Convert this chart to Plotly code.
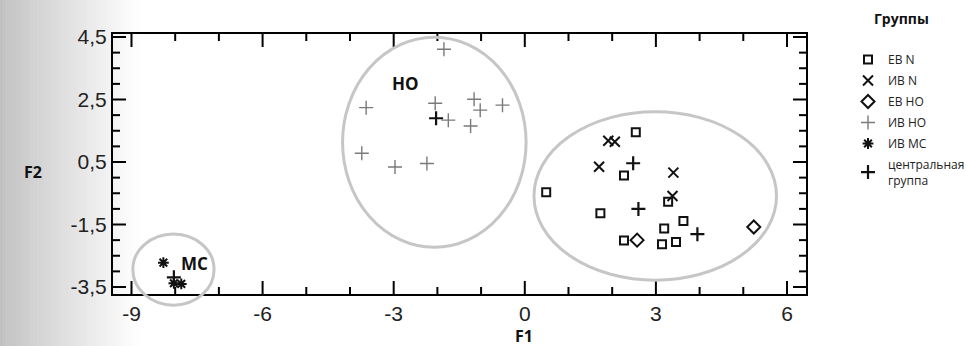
import plotly.graph_objects as go

# ---------------- data ----------------
ev_n_x = [2.54, 2.27, 0.49, 3.28, 1.73, 3.63, 3.19, 2.27, 3.46, 3.14]
ev_n_y = [1.45, 0.07, -0.47, -0.77, -1.14, -1.39, -1.63, -2.01, -2.06, -2.13]
iv_n_x = [1.91, 2.06, 1.70, 3.40, 3.38]
iv_n_y = [1.18, 1.15, 0.35, 0.16, -0.59]
ev_no_x = [2.57, 5.24]
ev_no_y = [-2.00, -1.58]
iv_no_x = [-1.85, -3.63, -2.05, -1.16, -1.02, -0.51, -1.75, -1.24, -3.73, -2.97, -2.24]
iv_no_y = [4.11, 2.24, 2.38, 2.51, 2.16, 2.32, 1.84, 1.65, 0.78, 0.34, 0.45]
iv_mc_x = [-8.27, -8.03, -7.86]
iv_mc_y = [-2.72, -3.38, -3.40]
central_x = [-8.03, -2.03, 2.48, 2.60, 3.95]
central_y = [-3.19, 1.90, 0.46, -1.00, -1.81]

x_tickvals = [-9, -6, -3, 0, 3, 6]
x_ticktext = ["-9", "-6", "-3", "0", "3", "6"]
y_tickvals = [4.5, 2.5, 0.5, -1.5, -3.5]
y_ticktext = ["4,5", "2,5", "0,5", "-1,5", "-3,5"]

group_labels = ["ЕВ N", "ИВ N", "ЕВ НО", "ИВ НО", "ИВ МС", "центральная<br>группа"]
legend_title = "Группы"
cluster_labels = [("НО", -2.74, 3.0), ("МС", -7.55, -2.74)]
# cluster ellipses (x0, x1, y0, y1) in data units
ellipses = [(-4.17, 0.03, -2.23, 4.49), (0.21, 5.76, -3.28, 2.11), (-8.97, -7.11, -4.08, -1.80)]

# ---------------- layout geometry ----------------
W, H = 966, 346
ML, MR, MT, MB = 113, 160, 34, 52
XR = [-9.423, 6.435]
YR = [-3.724, 4.596]
PW = W - ML - MR
PH = H - MT - MB
MAJOR_LEN, MINOR_LEN = 13, 7
KX = (XR[1] - XR[0]) / PW   # data units per pixel
KY = (YR[1] - YR[0]) / PH


def fx(v):
    return (v - XR[0]) / (XR[1] - XR[0])


def fy(v):
    return (v - YR[0]) / (YR[1] - YR[0])


def px_x(p):
    return (p - ML) / PW


def px_y(p):
    return 1 - (p - MT) / PH


fig = go.Figure()

# inside tick marks on all four sides (major at labelled values, minor between),
# drawn as one line trace through the axes' own scales
tx, ty = [], []
for v in range(-9, 7):
    ln = MAJOR_LEN if v in x_tickvals else MINOR_LEN
    tx += [v, v, None, v, v, None]
    ty += [YR[0], YR[0] + ln * KY, None, YR[1], YR[1] - ln * KY, None]
for k in range(-7, 10):
    v = k / 2
    ln = MAJOR_LEN if v in y_tickvals else MINOR_LEN
    tx += [XR[0], XR[0] + ln * KX, None, XR[1], XR[1] - ln * KX, None]
    ty += [v, v, None, v, v, None]
fig.add_trace(go.Scatter(x=tx, y=ty, mode="lines", line=dict(color="black", width=2),
                         showlegend=False, hoverinfo="skip", connectgaps=False))

styles = [
    (ev_n_x, ev_n_y, dict(symbol="square-open", size=8, color="#111", line=dict(width=2, color="#111"))),
    (iv_n_x, iv_n_y, dict(symbol="x-thin-open", size=10, color="#111", line=dict(width=2, color="#111"))),
    (ev_no_x, ev_no_y, dict(symbol="diamond-open", size=10, color="#111", line=dict(width=2, color="#111"))),
    (iv_no_x, iv_no_y, dict(symbol="cross-thin-open", size=10, color="#7a7a7a", line=dict(width=1.4, color="#7a7a7a"))),
    (iv_mc_x, iv_mc_y, dict(symbol="asterisk-open", size=9, color="#111", line=dict(width=2, color="#111"))),
    (central_x, central_y, dict(symbol="cross-thin-open", size=10, color="#111", line=dict(width=2.2, color="#111"))),
]
for (xs, ys, mk), name in zip(styles, group_labels):
    fig.add_trace(go.Scatter(x=xs, y=ys, mode="markers", name=name, marker=mk, legendgroup=name))

shapes = []
# left-side grey gradient background
n = 45
gx1 = 140
for i in range(n):
    p0 = gx1 * i / n
    p1 = gx1 * (i + 1) / n + 0.5
    t = (i + 0.5) / n
    g = int(round(192 + (255 - 192) * t ** 0.9))
    shapes.append(dict(type="rect", xref="paper", yref="paper",
                       x0=px_x(p0), x1=px_x(p1),
                       y0=px_y(H + 5), y1=px_y(-5),
                       fillcolor=f"rgb({g},{g},{g})", line=dict(width=0), layer="below"))
for (x0, x1, y0, y1) in ellipses:
    shapes.append(dict(type="circle", xref="x domain", yref="y domain",
                       x0=fx(x0), x1=fx(x1), y0=fy(y0), y1=fy(y1),
                       line=dict(color="#c6c6c6", width=3), layer="above"))

annotations = []
for txt, x, y in cluster_labels:
    annotations.append(dict(text=f"<b>{txt}</b>", x=x, y=y, xref="x", yref="y",
                            showarrow=False, font=dict(family="Open Sans", size=17, color="#111")))
annotations.append(dict(text="<b>F2</b>", xref="paper", yref="paper",
                        x=px_x(33), y=px_y(172), xanchor="center", yanchor="middle", showarrow=False,
                        font=dict(family="Open Sans", size=16, color="#111")))
annotations.append(dict(text="<b>F1</b>", xref="paper", yref="paper",
                        x=px_x(524), y=px_y(336), xanchor="center", yanchor="middle", showarrow=False,
                        font=dict(family="Open Sans", size=16, color="#111")))
annotations.append(dict(text=f"<b>{legend_title}</b>", xref="paper", yref="paper",
                        x=px_x(872), y=px_y(19), xanchor="left", yanchor="middle", showarrow=False,
                        font=dict(family="Open Sans", size=14, color="#111")))

tick_font = dict(family="Liberation Sans, Arial", size=21, color="#222")

fig.update_layout(
    width=W, height=H,
    margin=dict(l=ML, r=MR, t=MT, b=MB, autoexpand=False),
    paper_bgcolor="white", plot_bgcolor="white",
    xaxis=dict(range=XR, tickmode="array", tickvals=x_tickvals, ticktext=x_ticktext,
               showline=True, linecolor="black", linewidth=2, mirror=True, ticks="",
               showgrid=False, zeroline=False, tickfont=tick_font),
    yaxis=dict(range=YR, tickmode="array", tickvals=y_tickvals, ticktext=y_ticktext,
               showline=True, linecolor="black", linewidth=2, mirror=True, ticks="",
               showgrid=False, zeroline=False, tickfont=tick_font),
    legend=dict(x=px_x(848), xanchor="left", y=px_y(45), yanchor="top",
                font=dict(family="Open Sans", size=12, color="#222"),
                bgcolor="rgba(0,0,0,0)", tracegroupgap=2),
    shapes=shapes,
    annotations=annotations,
)

fig.write_html("out.html")
